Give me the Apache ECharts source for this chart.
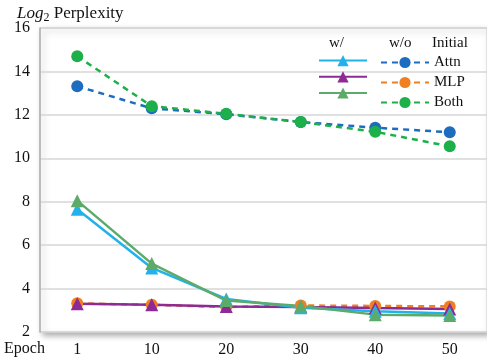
<!DOCTYPE html>
<html>
<head>
<meta charset="utf-8">
<script src="https://cdn.jsdelivr.net/npm/echarts@6/dist/echarts.min.js"></script>
<style>
  html, body { margin: 0; padding: 0; background: #fff; }
  #main { width: 487px; height: 364px; }
</style>
</head>
<body>
<div id="main"></div>
<script>
// epochs on x axis
const epochs = ['1', '10', '20', '30', '40', '50'];

// "w/" runs (solid, triangles)
const attnWith = [7.65, 4.95, 3.52, 3.12, 2.95, 2.85];
const mlpWith = [3.3, 3.25, 3.18, 3.15, 3.1, 3.06];
const bothWith = [8.05, 5.15, 3.45, 3.2, 2.8, 2.76];

// "w/o" runs (dashed, circles)
const attnWithout = [13.32, 12.3, 12.03, 11.67, 11.41, 11.2];
const mlpWithout = [3.32, 3.25, 3.15, 3.22, 3.2, 3.18];
const bothWithout = [14.7, 12.4, 12.05, 11.67, 11.22, 10.55];

const font = 'Liberation Serif';

function solid(name, data, color) {
  return {
    name: name, type: 'line', data: data,
    symbol: 'triangle', symbolSize: 13,
    lineStyle: { color: color, width: 2.5 },
    itemStyle: { color: color }
  };
}
function dashed(name, data, color) {
  return {
    name: name, type: 'line', data: data,
    symbol: 'circle', symbolSize: 12,
    lineStyle: { color: color, width: 2.5, type: [6, 5] },
    itemStyle: { color: color }
  };
}

const chart = echarts.init(document.getElementById('main'));

const option = {
  animation: false,
  textStyle: { fontFamily: font },
  grid: {
    left: 40, top: 28, width: 449, height: 304,
    show: true, borderColor: '#c8c8c8', borderWidth: 1,
    backgroundColor: '#fff',
    shadowColor: 'rgba(0,0,0,0.35)', shadowBlur: 6, shadowOffsetX: 3, shadowOffsetY: 3
  },
  title: {
    text: '{i|Log}{s|2} Perplexity',
    left: 12, top: -1,
    textStyle: {
      fontFamily: font, fontSize: 17, fontWeight: 'normal', color: '#111',
      rich: {
        i: { fontFamily: font, fontStyle: 'italic', fontSize: 17, color: '#111' },
        s: { fontFamily: font, fontSize: 12, color: '#111', verticalAlign: 'bottom', padding: [8, 0, 0, 0] }
      }
    }
  },
  graphic: [
    { type: 'text', left: 4, top: 341, style: { text: 'Epoch', font: '16px ' + font, fill: '#111' } },
    { type: 'text', left: 329, top: 36, style: { text: 'w/', font: '15px ' + font, fill: '#111' } },
    { type: 'text', left: 389, top: 36, style: { text: 'w/o', font: '15px ' + font, fill: '#111' } },
    { type: 'text', left: 432, top: 36, style: { text: 'Initial', font: '15px ' + font, fill: '#111' } }
  ],
  legend: [
    {
      data: ['Attn w/', 'MLP w/', 'Both w/'],
      orient: 'vertical', left: 318, top: 55, padding: 0,
      itemWidth: 48, itemHeight: 14, itemGap: 5,
      formatter: () => '',
      textStyle: { fontSize: 1, lineHeight: 14 }
    },
    {
      data: ['Attn w/o', 'MLP w/o', 'Both w/o'],
      orient: 'vertical', left: 380, top: 55, padding: 0,
      itemWidth: 48, itemHeight: 14, itemGap: 5,
      formatter: (n) => n.replace(' w/o', ''),
      textStyle: { fontFamily: font, fontSize: 15, lineHeight: 14, color: '#111' }
    }
  ],
  xAxis: {
    type: 'category',
    data: epochs,
    boundaryGap: true,
    axisLine: { show: false },
    axisTick: { show: false },
    axisLabel: { fontFamily: font, fontSize: 16, color: '#111', margin: 10 }
  },
  yAxis: {
    type: 'value',
    min: 2, max: 16, interval: 2,
    axisLine: { show: true, lineStyle: { color: '#b0b0b0', width: 1.5 } },
    axisTick: { show: false },
    splitLine: { lineStyle: { color: '#d6d6d6', width: 1.5 } },
    axisLabel: { fontFamily: font, fontSize: 16, color: '#111', margin: 10 }
  },
  series: [
    dashed('MLP w/o', mlpWithout, '#f07f23'),
    solid('MLP w/', mlpWith, '#8d2a95'),
    dashed('Attn w/o', attnWithout, '#1c6cbf'),
    dashed('Both w/o', bothWithout, '#1db04a'),
    solid('Attn w/', attnWith, '#22b2ea'),
    solid('Both w/', bothWith, '#5cab6a')
  ]
};

chart.setOption(option);
window.addEventListener('resize', () => { chart.resize(); });
</script>
</body>
</html>
